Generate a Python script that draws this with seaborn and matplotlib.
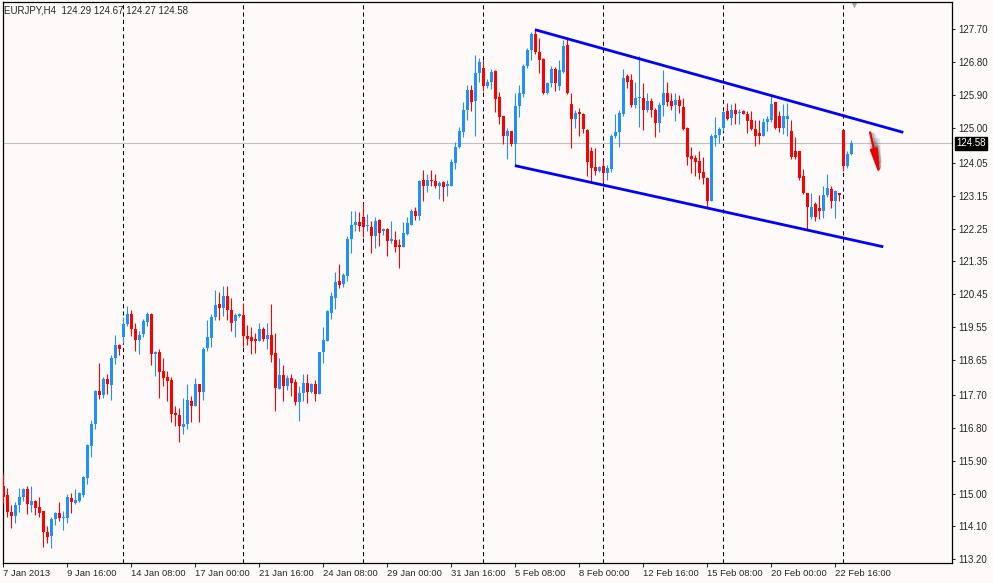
import numpy as np
import pandas as pd
import seaborn as sns
import matplotlib.pyplot as plt
from matplotlib import transforms

# EURJPY H4 candles (oldest first)
open_ = [115.20, 114.95, 114.50, 114.39, 114.68, 114.90, 115.12, 114.68, 114.79, 114.62,
         114.51, 113.96, 113.83, 114.29, 114.47, 114.33, 114.33, 114.88, 114.74, 114.79,
         114.97, 115.43, 116.30, 116.91, 117.80, 117.69, 118.13, 117.97, 118.70, 119.07,
         119.27, 119.65, 119.91, 119.49, 119.21, 119.36, 119.69, 119.92, 118.82, 118.88,
         118.35, 118.20, 118.11, 117.21, 117.14, 116.81, 116.89, 117.53, 117.39, 118.00,
         117.78, 118.97, 119.26, 119.83, 120.18, 120.08, 120.41, 120.01, 119.72, 119.87,
         119.88, 119.31, 119.28, 119.22, 119.17, 119.50, 119.24, 119.33, 118.84, 117.87,
         118.24, 117.93, 118.17, 118.06, 117.51, 117.76, 118.02, 117.79, 117.99, 117.73,
         118.87, 119.17, 119.95, 120.36, 120.82, 120.73, 120.96, 121.96, 122.34, 122.42,
         122.57, 122.31, 122.30, 122.05, 122.48, 122.19, 122.23, 121.90, 121.93, 121.81,
         121.75, 122.10, 122.35, 122.74, 122.60, 123.58, 123.42, 123.58, 123.56, 123.40,
         123.52, 123.40, 123.42, 124.04, 124.47, 124.89, 125.50, 126.05, 125.74, 126.50,
         126.65, 126.14, 126.26, 126.56, 125.85, 125.32, 124.79, 124.91, 124.55, 125.59,
         125.92, 126.69, 127.14, 127.56, 127.08, 126.90, 125.95, 126.23, 126.62, 126.14,
         126.53, 127.26, 125.66, 125.25, 125.43, 125.39, 124.95, 124.36, 123.93, 123.82,
         123.97, 123.76, 123.88, 124.79, 124.88, 125.37, 126.41, 126.30, 125.62, 125.82,
         125.83, 125.48, 125.75, 125.50, 125.13, 125.64, 125.95, 125.75, 125.62, 125.77,
         125.57, 125.00, 124.24, 124.18, 124.09, 123.79, 123.63, 123.01, 124.73, 124.82,
         125.00, 125.46, 125.28, 125.50, 125.41, 125.46, 125.39, 125.22, 124.98, 124.86,
         124.79, 125.16, 125.22, 125.71, 125.34, 125.00, 125.25, 124.91, 124.37, 124.37,
         123.70, 123.21, 122.57, 122.92, 122.81, 122.72, 123.18, 123.33, 122.99, 123.23,
         124.95, 123.97, 124.29]
high = [115.54, 115.15, 114.68, 114.77, 115.15, 115.15, 115.20, 115.20, 114.82, 114.90,
        114.51, 114.10, 114.35, 114.50, 114.77, 114.51, 114.99, 115.01, 115.12, 115.04,
        115.47, 116.36, 117.00, 117.84, 118.58, 118.19, 118.26, 118.79, 119.34, 119.10,
        119.83, 120.14, 120.02, 119.67, 119.45, 119.77, 119.97, 119.95, 118.91, 118.94,
        118.70, 118.35, 118.18, 117.39, 117.34, 117.62, 118.00, 117.66, 118.17, 118.00,
        119.01, 119.76, 119.92, 120.58, 120.52, 120.68, 120.68, 120.36, 119.95, 119.95,
        120.22, 119.61, 119.55, 119.40, 119.67, 119.55, 119.67, 120.18, 119.40, 118.70,
        118.51, 118.24, 118.28, 118.12, 117.94, 118.28, 118.28, 118.02, 118.10, 118.87,
        119.56, 120.01, 120.50, 121.05, 121.28, 121.02, 122.05, 122.74, 122.74, 122.69,
        122.92, 122.65, 122.45, 122.57, 122.51, 122.26, 122.26, 122.45, 122.19, 121.96,
        122.42, 122.56, 122.78, 122.83, 123.58, 123.84, 123.73, 123.84, 123.73, 123.56,
        123.56, 123.58, 124.15, 124.61, 125.04, 125.71, 126.17, 126.17, 126.99, 126.92,
        126.85, 126.35, 126.62, 126.58, 125.98, 125.34, 125.00, 124.93, 125.95, 126.17,
        126.76, 127.20, 127.63, 127.69, 127.47, 126.92, 126.26, 126.69, 126.67, 126.85,
        127.40, 127.49, 125.95, 125.50, 125.55, 125.41, 124.98, 124.47, 124.46, 123.97,
        124.12, 124.00, 124.84, 125.39, 125.48, 126.62, 126.48, 126.47, 126.26, 126.96,
        126.23, 125.95, 125.83, 125.55, 125.71, 126.58, 126.26, 125.95, 125.95, 125.89,
        125.83, 125.02, 124.47, 124.27, 124.38, 124.20, 123.65, 124.84, 125.30, 125.04,
        125.48, 125.68, 125.66, 125.68, 125.53, 125.50, 125.46, 125.46, 125.22, 125.22,
        125.28, 125.34, 125.89, 125.71, 125.46, 125.66, 125.68, 125.22, 124.75, 124.38,
        123.88, 123.21, 123.21, 122.97, 123.18, 123.42, 123.74, 123.42, 123.30, 123.23,
        124.98, 124.37, 124.67]
low = [114.74, 114.35, 114.06, 114.19, 114.50, 114.79, 114.44, 114.50, 114.42, 114.35,
       113.55, 113.64, 113.51, 114.15, 114.26, 114.00, 114.19, 114.47, 114.71, 114.77,
       114.90, 115.26, 116.00, 116.76, 117.58, 117.62, 117.71, 117.57, 118.53, 118.79,
       119.13, 119.59, 119.31, 118.90, 118.83, 119.27, 119.59, 118.51, 118.21, 117.60,
       117.94, 117.53, 116.96, 116.84, 116.41, 116.63, 116.76, 116.96, 117.39, 116.96,
       117.57, 118.91, 119.01, 119.74, 119.74, 119.86, 119.74, 119.44, 119.28, 119.83,
       119.01, 119.06, 118.82, 118.85, 119.17, 119.17, 118.94, 118.60, 117.27, 117.87,
       117.53, 117.82, 117.66, 117.42, 116.98, 117.53, 117.48, 117.76, 117.53, 117.73,
       118.58, 119.16, 119.77, 120.04, 120.62, 120.66, 120.82, 121.57, 122.19, 122.19,
       122.01, 122.19, 121.57, 121.72, 121.78, 122.08, 121.50, 121.84, 121.60, 121.17,
       121.75, 122.08, 122.35, 122.48, 122.48, 123.01, 123.24, 123.42, 123.36, 123.06,
       123.01, 123.15, 123.42, 123.88, 124.46, 124.75, 125.22, 125.46, 124.79, 126.26,
       126.01, 126.10, 126.07, 125.43, 125.11, 124.57, 124.15, 124.52, 123.97, 125.30,
       125.86, 126.65, 126.85, 127.03, 126.50, 125.94, 125.94, 126.12, 126.01, 126.03,
       126.50, 125.92, 124.46, 125.00, 124.79, 124.86, 123.70, 123.49, 123.72, 123.79,
       123.51, 123.58, 123.79, 124.73, 124.47, 125.34, 126.10, 125.57, 125.55, 125.04,
       124.95, 125.43, 125.31, 124.75, 124.89, 125.34, 125.59, 125.50, 125.19, 125.41,
       124.95, 124.00, 123.76, 123.70, 123.60, 123.47, 122.85, 122.99, 124.52, 124.58,
       124.91, 125.21, 125.07, 125.10, 125.11, 125.37, 124.86, 124.95, 124.52, 124.57,
       124.77, 124.93, 125.16, 124.98, 124.89, 124.84, 124.79, 124.15, 124.15, 123.58,
       123.19, 122.21, 122.51, 122.45, 122.51, 122.54, 123.12, 122.81, 122.54, 123.01,
       123.82, 123.91, 124.27]
close = [114.90, 114.50, 114.39, 114.68, 114.90, 115.12, 114.71, 114.79, 114.60, 114.47,
         113.95, 113.80, 114.29, 114.47, 114.33, 114.35, 114.90, 114.77, 114.83, 115.01,
         115.45, 116.34, 116.89, 117.80, 117.69, 118.13, 117.99, 118.70, 119.07, 118.94,
         119.63, 119.91, 119.49, 119.19, 119.34, 119.72, 119.92, 118.82, 118.88, 118.33,
         118.17, 118.07, 117.18, 117.14, 116.85, 116.89, 117.56, 117.39, 118.00, 117.78,
         118.95, 119.28, 119.83, 120.16, 120.08, 120.41, 120.01, 119.67, 119.88, 119.92,
         119.31, 119.22, 119.17, 119.17, 119.50, 119.22, 119.33, 118.80, 117.89, 118.24,
         117.93, 118.17, 118.03, 117.51, 117.76, 118.02, 117.79, 117.99, 117.73, 118.87,
         119.19, 119.98, 120.41, 120.80, 120.71, 120.98, 121.96, 122.35, 122.42, 122.33,
         122.28, 122.33, 122.05, 122.45, 122.14, 122.23, 121.90, 121.96, 121.75, 121.75,
         122.12, 122.39, 122.72, 122.60, 123.56, 123.42, 123.58, 123.54, 123.40, 123.50,
         123.38, 123.47, 124.06, 124.49, 124.91, 125.50, 126.05, 125.71, 126.50, 126.80,
         126.14, 126.26, 126.53, 125.80, 125.30, 124.79, 124.91, 124.55, 125.59, 125.95,
         126.69, 127.14, 127.58, 127.08, 126.85, 125.95, 126.23, 126.62, 126.23, 126.58,
         127.23, 125.95, 125.25, 125.41, 125.39, 124.98, 124.06, 123.91, 123.82, 123.94,
         123.76, 123.91, 124.79, 124.88, 125.41, 126.37, 126.26, 125.62, 125.83, 125.84,
         125.48, 125.75, 125.50, 125.13, 125.64, 125.95, 125.71, 125.59, 125.77, 125.59,
         124.98, 124.22, 124.15, 124.06, 123.76, 123.63, 123.01, 124.79, 124.82, 124.98,
         125.43, 125.25, 125.50, 125.39, 125.43, 125.39, 125.19, 124.98, 124.79, 124.79,
         125.16, 125.25, 125.66, 125.00, 125.00, 125.34, 125.34, 124.22, 124.22, 123.63,
         123.21, 122.85, 122.85, 122.57, 122.72, 123.18, 123.36, 122.99, 123.27, 123.18,
         123.97, 124.29, 124.58]

date_labels = ["7 Jan 2013", "9 Jan 16:00", "14 Jan 08:00", "17 Jan 00:00", "21 Jan 16:00",
               "24 Jan 08:00", "29 Jan 00:00", "31 Jan 16:00", "5 Feb 08:00", "8 Feb 00:00",
               "12 Feb 16:00", "15 Feb 08:00", "20 Feb 00:00", "22 Feb 16:00"]
price_ticks = [127.70, 126.80, 125.90, 125.00, 124.05, 123.15, 122.25, 121.35, 120.45,
               119.55, 118.65, 117.70, 116.80, 115.90, 115.00, 114.10, 113.20]

# hand-drawn channel and arrow (bar index, price)
upper_x, upper_y = [133.9, 226.0], [127.69, 124.88]
lower_x, lower_y = [128.9, 221.0], [123.97, 121.75]
arrow_start = (217.7, 124.88)
arrow_end = (220.2, 123.66)

df = pd.DataFrame({"open": open_, "high": high, "low": low, "close": close})
df["bar"] = np.arange(1, len(df) + 1)
df["up"] = df["close"] >= df["open"]

sns.set_style("white")
plt.rcParams["font.family"] = ["Liberation Sans", "DejaVu Sans"]

bg = "#fffafa"
bull, bear = "#1e90ff", "#ff0000"

fig = plt.figure(figsize=(9.93, 5.83), dpi=100, facecolor=bg)
ax = fig.add_axes([2.7 / 993, 20.3 / 583, 949 / 993, 560.7 / 583], facecolor=bg)

colors = np.where(df["up"], bull, bear)
ax.vlines(df["bar"], df["low"], df["high"], colors=colors, lw=0.8, zorder=3)
body_lo = df[["open", "close"]].min(axis=1)
body_h = (df["close"] - df["open"]).abs().clip(lower=0.03)
ax.bar(df["bar"], body_h, bottom=body_lo, width=0.75, color=colors, linewidth=0, zorder=4)

# vertical dashed grid
for gx in range(31, len(df) + 1, 30):
    ax.axvline(gx, color="black", lw=0.75, ls=(0, (4, 3)), zorder=1)

last = df["close"].iloc[-1]
ax.axhline(last, color="#c0c0c0", lw=0.8, zorder=2)

ax.plot(upper_x, upper_y, color="#0000ff", lw=2, solid_capstyle="butt", zorder=5)
ax.plot(lower_x, lower_y, color="#0000ff", lw=2, solid_capstyle="butt", zorder=5)

# arrow with soft shadow
astyle = "-|>,head_length=1.5,head_width=0.22"
for off, a, w in [(3, 0.15, 4), (2, 0.25, 2.5)]:
    sh = transforms.ScaledTranslation(off / 100, -off / 100, fig.dpi_scale_trans)
    ax.annotate("", xy=arrow_end, xytext=arrow_start,
                arrowprops=dict(arrowstyle=astyle, color="#444444", lw=w, alpha=a,
                                shrinkA=0, shrinkB=0),
                xycoords=ax.transData + sh, textcoords=ax.transData + sh, zorder=5)
ax.annotate("", xy=arrow_end, xytext=arrow_start,
            arrowprops=dict(arrowstyle=astyle, color="#ee0000", lw=1.6, shrinkA=0, shrinkB=0),
            zorder=6)

ax.set_xlim(0.85, 238.1)
ax.set_ylim(113.107, 128.447)

xt = df["bar"].iloc[::16].tolist()
ax.set_xticks(xt)
ax.set_xticklabels(date_labels, ha="left", fontsize=6.8)
shift = transforms.ScaledTranslation(3 / 100, 0, fig.dpi_scale_trans)
for lab in ax.get_xticklabels():
    lab.set_transform(lab.get_transform() + shift)

ax.yaxis.tick_right()
ax.set_yticks(price_ticks)
ax.set_yticklabels([f"{p:.2f}" for p in price_ticks], fontsize=7)
ax.tick_params(axis="x", direction="out", length=3, width=0.75, pad=1.5, bottom=True)
ax.tick_params(axis="y", direction="out", length=2.5, width=0.75, pad=2.5, right=True, left=False)

for sp in ax.spines.values():
    sp.set_color("black")
    sp.set_linewidth(0.9)

ax.text(1 + 4.5 / 949, last, f"{last:.2f}", transform=transforms.blended_transform_factory(ax.transAxes, ax.transData),
        ha="left", va="center", color="white", fontsize=7,
        bbox=dict(facecolor="black", edgecolor="black", pad=1.2), clip_on=False, zorder=10)

# chart shift marker
ax.plot([len(df) + 0.8], [0.995], marker="v", ms=5, color="#a9a9a9", mec="none",
        transform=transforms.blended_transform_factory(ax.transData, ax.transAxes), clip_on=False)

header = "EURJPY,H4  {:.2f} {:.2f} {:.2f} {:.2f}".format(open_[-1], high[-1], low[-1], close[-1])
fig.text(4 / 993, 1 - 10.5 / 583, header, ha="left", va="center", fontsize=7)

fig.savefig("out.png", dpi=100, facecolor=bg)
